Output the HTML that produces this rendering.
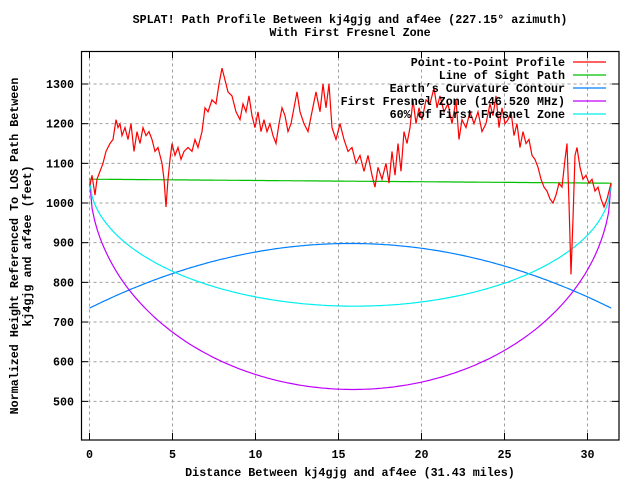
<!DOCTYPE html>
<html><head><meta charset="utf-8"><style>
html,body{margin:0;padding:0;background:#fff;}
svg text{font-family:"Liberation Mono",monospace;font-weight:bold;font-size:11.7px;fill:#000;}
</style></head><body>
<svg id="s" width="640" height="480" xmlns="http://www.w3.org/2000/svg">
<rect width="640" height="480" fill="#fff"/>
<g id="grid" stroke="#a0a0a0" stroke-dasharray="3,3" stroke-width="1"></g>
<g id="ticks" stroke="#000" stroke-width="1"></g>
<g id="series" fill="none" stroke-width="1.2"></g>
<rect x="81.5" y="51.5" width="537.5" height="388.5" fill="none" stroke="#000" stroke-width="1.2"/>
<text x="350" y="23" text-anchor="middle">SPLAT! Path Profile Between kj4gjg and af4ee (227.15° azimuth)</text>
<text x="350" y="36" text-anchor="middle">With First Fresnel Zone</text>
<text x="350" y="476" text-anchor="middle">Distance Between kj4gjg and af4ee (31.43 miles)</text>
<text transform="translate(18,246) rotate(-90)" text-anchor="middle">Normalized Height Referenced To LOS Path Between</text>
<text transform="translate(31,246) rotate(-90)" text-anchor="middle">kj4gjg and af4ee (feet)</text>
<g id="labels"></g>
<g text-anchor="end">
<text x="565" y="66">Point-to-Point Profile</text>
<text x="565" y="79">Line of Sight Path</text>
<text x="565" y="92">Earth’s Curvature Contour</text>
<text x="565" y="105">First Fresnel Zone (146.520 MHz)</text>
<text x="565" y="118">60% of First Fresnel Zone</text>
</g>
<g stroke-width="1.2">
<line x1="573" y1="62" x2="606" y2="62" stroke="#ff0000"/>
<line x1="573" y1="75" x2="606" y2="75" stroke="#00c000"/>
<line x1="573" y1="88" x2="606" y2="88" stroke="#0080ff"/>
<line x1="573" y1="101" x2="606" y2="101" stroke="#c000ff"/>
<line x1="573" y1="114" x2="606" y2="114" stroke="#00eeee"/>
</g>
</svg>
<script>
var NS="http://www.w3.org/2000/svg";
function Y(v){return 84+(1300-v)*0.3967;}
function X(d){return 89.5+d*16.6;}
function el(p,t,a,txt){var e=document.createElementNS(NS,t);for(var k in a)e.setAttribute(k,a[k]);if(txt)e.textContent=txt;document.getElementById(p).appendChild(e);return e;}
for(var v=500;v<=1300;v+=100){var y=Y(v);
 el("grid","line",{x1:81.5,x2:619,y1:y,y2:y});
 el("ticks","line",{x1:81.5,x2:88,y1:y,y2:y});el("ticks","line",{x1:612,x2:619,y1:y,y2:y});
 el("labels","text",{x:74,y:y+4,"text-anchor":"end"},""+v);}
for(var d=0;d<=30;d+=5){var x=X(d);
 el("grid","line",{x1:x,x2:x,y1:51.5,y2:440});
 el("ticks","line",{x1:x,x2:x,y1:440,y2:433});el("ticks","line",{x1:x,x2:x,y1:51.5,y2:58});
 el("labels","text",{x:x,y:458,"text-anchor":"middle"},""+d);}
var D=31.43,N=200;
function curve(f,c){var s="";for(var i=0;i<=N;i++){var d=D*i/N;s+=(i?"L":"M")+X(d).toFixed(1)+" "+Y(f(d,d/D)).toFixed(1);}el("series","path",{d:s,stroke:c});}
function L(d,t){return 1060-10*t;}
curve(function(d,t){return 735+163*4*t*(1-t);},"#0080ff");
curve(function(d,t){return L(d,t)-1050*Math.sqrt(t*(1-t));},"#c000ff");
curve(function(d,t){return L(d,t)-630*Math.sqrt(t*(1-t));},"#00eeee");
curve(L,"#00c000");
var T=[90,1045,92,1070,95,1020,97,1060,100,1080,103,1100,106,1130,110,1150,113,1160,116,1210,118,1190,120,1200,122,1170,125,1190,128,1160,131,1200,134,1130,137,1180,140,1150,143,1190,146,1170,149,1180,152,1160,155,1130,158,1140,162,1100,164,1060,166,990,168,1060,170,1110,172,1150,175,1120,178,1140,181,1110,184,1130,188,1140,192,1130,195,1160,198,1140,202,1180,205,1240,208,1230,212,1260,216,1250,219,1300,222,1340,225,1310,228,1280,232,1270,236,1230,240,1210,243,1250,246,1230,249,1270,252,1220,255,1190,258,1230,261,1180,264,1210,267,1180,270,1200,273,1170,276,1150,279,1200,282,1240,285,1220,288,1180,291,1200,294,1240,297,1280,300,1230,304,1200,308,1180,312,1230,316,1280,320,1230,323,1300,326,1240,329,1300,332,1190,336,1160,340,1200,344,1160,348,1130,352,1140,356,1100,360,1120,364,1080,368,1120,372,1070,375,1040,378,1090,382,1060,386,1100,389,1050,392,1130,395,1070,398,1150,401,1080,404,1180,407,1150,410,1190,413,1260,416,1200,419,1240,422,1210,426,1260,430,1250,434,1290,437,1240,440,1270,444,1230,448,1250,452,1200,456,1260,459,1160,462,1210,466,1190,470,1230,474,1200,478,1230,482,1180,486,1200,490,1250,493,1220,496,1270,499,1190,502,1240,505,1200,508,1210,511,1230,514,1170,517,1200,520,1140,523,1180,526,1150,529,1160,532,1120,535,1110,538,1090,541,1060,544,1040,547,1030,550,1010,553,1000,556,1020,559,1050,562,1040,565,1110,567,1150,569,1000,571,820,573,960,575,1120,577,1140,580,1090,583,1060,586,1070,589,1050,592,1060,595,1030,598,1040,601,1010,604,990,607,1010,610,1040,611,1050];
var s="";for(var i=0;i<T.length;i+=2){s+=(i?"L":"M")+T[i]+" "+Y(T[i+1]).toFixed(1);}
el("series","path",{d:s,stroke:"#ff0000"});
</script>
</body></html>
